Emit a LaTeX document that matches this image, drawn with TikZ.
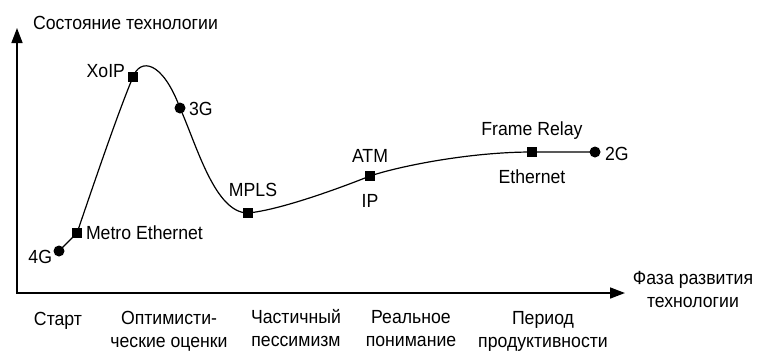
\documentclass[tikz,border=0pt]{standalone}
\usepackage{fontspec}
\setmainfont[FakeStretch=0.93]{Liberation Sans}
\usetikzlibrary{arrows.meta}

\begin{document}
\begin{tikzpicture}[x=1pt,y=-1pt,
  every node/.style={inner sep=0pt,outer sep=0pt},
  lbl/.style={font=\fontsize{19}{22.5}\selectfont},
  axislbl/.style={lbl,align=center,anchor=base},
  axis/.style={line width=1.6pt,{Triangle[length=15pt,width=11pt]}-{Triangle[length=15pt,width=11pt]}},
  hype/.style={line width=1.2pt},
  sqmark/.style={rectangle,fill=black,minimum size=10pt},
  dotmark/.style={circle,fill=black,minimum size=11pt}]

\useasboundingbox (0,0) rectangle (757,354);

% axes
\coordinate (ytip) at (17,28);
\coordinate (origin) at (17,293);
\coordinate (xtip) at (625,293);
\draw[axis] (ytip) -- (origin) -- (xtip);

\node[lbl,anchor=base west] (ytitle) at (33,29) {Состояние технологии};
% multi-line captions are placed by the baseline of their last line
\node[axislbl] (xtitle) at (693,307) {Фаза развития\\технологии};

% phase captions
\node[axislbl] (ph1) at (58,325) {Старт};
\node[axislbl] (ph2) at (169,347) {Оптимисти-\\ческие оценки};
\node[axislbl] (ph3) at (296,346) {Частичный\\пессимизм};
\node[axislbl] (ph4) at (411,346) {Реальное\\понимание};
\node[axislbl] (ph5) at (543,347) {Период\\продуктивности};

% points on the curve
\coordinate (g4) at (59,251);
\coordinate (metro) at (77,233);
\coordinate (xoip) at (133,77);
\coordinate (g3) at (180,108);
\coordinate (mpls) at (248,213);
\coordinate (atm) at (370,176);
\coordinate (eth) at (532,152);
\coordinate (g2) at (595,152);

% hype curve
\draw[hype] (g4) -- (metro)
  .. controls (90,195) and (118,112) .. (xoip)
  .. controls (140,58) and (162,60) .. (g3)
  .. controls (197,146) and (215,213) .. (mpls)
  .. controls (280,210) and (340,188) .. (atm)
  .. controls (400,166) and (470,152) .. (eth)
  -- (g2);

% markers
\node[dotmark] (m4g) at (g4) {};
\node[sqmark] (mmetro) at (metro) {};
\node[sqmark] (mxoip) at (xoip) {};
\node[dotmark] (m3g) at (g3) {};
\node[sqmark] (mmpls) at (mpls) {};
\node[sqmark] (matm) at (atm) {};
\node[sqmark] (meth) at (eth) {};
\node[dotmark] (m2g) at (g2) {};

% technology labels
\node[lbl,anchor=base east] (t4g) at (52,263) {4G};
\node[lbl,anchor=base west] (tmetro) at (86,239) {Metro Ethernet};
\node[lbl,anchor=base east] (txoip) at (125,77) {XoIP};
\node[lbl,anchor=base west] (t3g) at (189,115) {3G};
\node[lbl,anchor=base] (tmpls) at (253,196) {MPLS};
\node[lbl,anchor=base] (tatm) at (370,162) {ATM};
\node[lbl,anchor=base] (tip) at (370,207) {IP};
\node[lbl,anchor=base] (tfr) at (532,135) {Frame Relay};
\node[lbl,anchor=base] (teth) at (532,183) {Ethernet};
\node[lbl,anchor=base west] (t2g) at (605,160) {2G};
\end{tikzpicture}
\end{document}
